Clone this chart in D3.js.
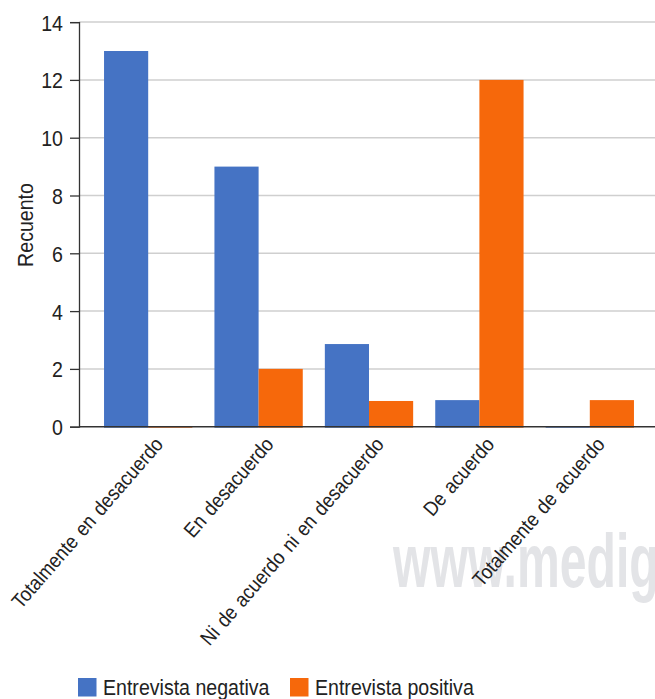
<!DOCTYPE html>
<html>
<head>
<meta charset="utf-8">
<script src="https://d3js.org/d3.v7.min.js"></script>
<style>
  body { margin: 0; background: #fff; }
  text { font-family: "Liberation Sans", Arial, Helvetica, sans-serif; fill: #222; }
</style>
</head>
<body>
<div id="chart"></div>
<script>
// Data
var categories = ["Totalmente en desacuerdo", "En desacuerdo", "Ni de acuerdo ni en desacuerdo", "De acuerdo", "Totalmente de acuerdo"];
var seriesNames = ["Entrevista negativa", "Entrevista positiva"];
var negativa = [13, 9, 2.86, 0.92, 0];
var positiva = [0, 2, 0.89, 12, 0.92];
var yTicks = [0, 2, 4, 6, 8, 10, 12, 14];
var colors = ["#4573c4", "#f6680b"];

var svgWidth = 655;
var svgHeight = 699;
var squeeze = 0.89; // the source font is a condensed sans

var plot = { left: 79, right: 655, top: 22, bottom: 427 };

var svg = d3.select("#chart")
  .append("svg")
  .attr("width", svgWidth)
  .attr("height", svgHeight);

// scales
var x0 = d3.scaleBand()
  .domain(categories)
  .range([93, 645])
  .paddingInner(0.2)
  .paddingOuter(0.1);

var x1 = d3.scaleBand()
  .domain(seriesNames)
  .range([0, x0.bandwidth()]);

var y = d3.scaleLinear()
  .domain([0, 14])
  .range([426.7, 22.1]);

// watermark (cut by the right edge, as in the source)
svg.append("text")
  .attr("transform", "translate(393, 587) scale(0.83, 1.3)")
  .style("font-size", "58px")
  .style("font-weight", "bold")
  .style("fill", "#e3e4e7")
  .text("www.medig");

// gridlines
svg.append("g")
  .selectAll("line")
  .data(yTicks.filter(d => d > 0))
  .enter()
  .append("line")
  .attr("x1", plot.left)
  .attr("x2", plot.right)
  .attr("y1", d => y(d))
  .attr("y2", d => y(d))
  .attr("stroke", "#cfcfcf")
  .attr("stroke-width", 1.5);

// bars
var rows = categories.map(function(c, i) {
  return { cat: c, values: [negativa[i], positiva[i]] };
});

var groups = svg.append("g")
  .selectAll("g")
  .data(rows)
  .enter()
  .append("g")
  .attr("transform", d => `translate(${x0(d.cat)},0)`);

groups.selectAll("rect")
  .data(d => d.values.map((v, j) => ({ name: seriesNames[j], value: v, j: j })))
  .enter()
  .append("rect")
  .attr("x", d => x1(d.name))
  .attr("width", x1.bandwidth())
  .attr("y", d => y(d.value))
  .attr("height", d => y(0) - y(d.value) + 1)
  .attr("fill", d => colors[d.j]);

// y axis
var leftAxis = d3.axisLeft(y)
  .tickValues(yTicks)
  .tickSize(9)
  .tickPadding(0)
  .tickFormat(d3.format("d"));

var yAxis = svg.append("g")
  .attr("transform", `translate(${plot.left},0)`)
  .call(leftAxis);

yAxis.select(".domain").attr("stroke", "#333").attr("stroke-width", 1.3);
yAxis.selectAll(".tick line").attr("stroke", "#333").attr("stroke-width", 1.3);
yAxis.selectAll(".tick text")
  .attr("x", -16 / squeeze)
  .attr("dy", "0.36em")
  .attr("transform", `scale(${squeeze},1)`)
  .style("font-size", "22px")
  .style("font-family", "'Liberation Sans', Arial, sans-serif")
  .attr("fill", "#222");

// baseline
svg.append("line")
  .attr("x1", plot.left)
  .attr("x2", plot.right)
  .attr("y1", y(0))
  .attr("y2", y(0))
  .attr("stroke", "#333")
  .attr("stroke-width", 1.5);

// category labels
svg.append("g")
  .selectAll("text")
  .data(categories)
  .enter()
  .append("text")
  .attr("transform", d => `translate(${x0(d) + x0.bandwidth() / 2 + 16}, 445) rotate(-49) scale(${squeeze},1)`)
  .attr("text-anchor", "end")
  .style("font-size", "20.5px")
  .style("word-spacing", "2px")
  .text(d => d);

// y label
svg.append("text")
  .attr("transform", `translate(33, 225) rotate(-90) scale(${squeeze},1)`)
  .attr("text-anchor", "middle")
  .style("font-size", "22px")
  .text("Recuento");

// legend
var legendX = [78, 290];
var legend = svg.append("g")
  .selectAll("g")
  .data(seriesNames)
  .enter()
  .append("g")
  .attr("transform", (d, i) => `translate(${legendX[i]}, 678)`);

legend.append("rect")
  .attr("width", 18.5)
  .attr("height", 18.5)
  .attr("fill", (d, i) => colors[i]);

legend.append("text")
  .attr("transform", `translate(25, 17) scale(${squeeze},1)`)
  .style("font-size", "22px")
  .text(d => d);
</script>
</body>
</html>
